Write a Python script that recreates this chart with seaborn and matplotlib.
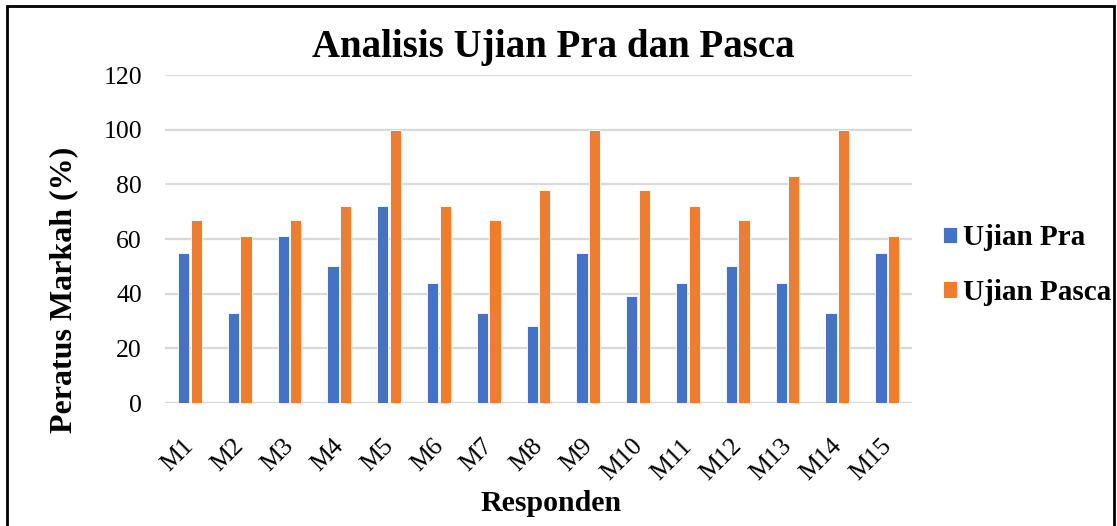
import matplotlib
matplotlib.use("Agg")
import matplotlib.pyplot as plt
import matplotlib.transforms as mtransforms
import seaborn as sns
import pandas as pd
from matplotlib.patches import Rectangle

responden = ["M1", "M2", "M3", "M4", "M5", "M6", "M7", "M8", "M9", "M10",
             "M11", "M12", "M13", "M14", "M15"]
ujian_pra = [55, 33, 61, 50, 72, 44, 33, 28, 55, 39, 44, 50, 44, 33, 55]
ujian_pasca = [67, 61, 67, 72, 100, 72, 67, 78, 100, 78, 72, 67, 83, 100, 61]
series = ["Ujian Pra", "Ujian Pasca"]
colors = ["#4472C4", "#ED7D31"]
y_ticks = [0, 20, 40, 60, 80, 100, 120]

df = pd.DataFrame({
    "Responden": responden * 2,
    "Nilai": ujian_pra + ujian_pasca,
    "Ujian": [series[0]] * len(responden) + [series[1]] * len(responden),
})

sns.set_theme(style="white")
plt.rcParams["font.family"] = ["Liberation Serif", "DejaVu Serif"]
plt.rcParams["text.color"] = "black"
plt.rcParams["xtick.color"] = "black"
plt.rcParams["ytick.color"] = "black"
plt.rcParams["axes.labelcolor"] = "black"

fig = plt.figure(figsize=(11.17, 5.26), dpi=100)
ax = fig.add_axes([0.1477, 0.2338, 0.6688, 0.6236])

sns.barplot(data=df, x="Responden", y="Nilai", hue="Ujian", order=responden,
            hue_order=series, palette=colors, width=0.5, gap=0.1,
            edgecolor="white", linewidth=0.6, saturation=1, ax=ax, legend=True)

ax.set_ylim(0, 120)
ax.set_xlim(-0.5, len(responden) - 0.5)
ax.set_yticks(y_ticks)
ax.set_yticklabels([str(v) for v in y_ticks], fontsize=18.5)
ax.yaxis.grid(True, color="#d9d9d9", linewidth=1.6)
ax.set_axisbelow(True)
for s in ax.spines.values():
    s.set_visible(False)
ax.tick_params(axis="x", length=0, pad=23)
ax.tick_params(axis="y", length=0, pad=16.5)
shift = mtransforms.ScaledTranslation(-5 / 72, 0, fig.dpi_scale_trans)
for lab in ax.get_xticklabels():
    lab.set_rotation(45)
    lab.set_ha("right")
    lab.set_rotation_mode("anchor")
    lab.set_fontsize(18.5)
    lab.set_transform(lab.get_transform() + shift)

ax.set_xlabel("Responden", fontsize=21.5, fontweight="bold")
ax.xaxis.set_label_coords(0.517, -0.329)
ax.xaxis.label.set_va("baseline")
ax.set_ylabel("Peratus Markah (%)", fontsize=23, fontweight="bold")
ax.yaxis.set_label_coords(-0.135, 0.346)
ax.yaxis.label.set_va("center")

fig.text(0.495, 0.8916, "Analisis Ujian Pra dan Pasca", ha="center", va="baseline",
         fontsize=28, fontweight="bold")

leg = ax.legend(loc="center left", bbox_to_anchor=(1.0255, 0.42), frameon=False,
                prop={"weight": "bold", "size": 21}, handlelength=0.5,
                handleheight=0.5, handletextpad=0.2, labelspacing=0.95,
                borderaxespad=0)

fig.patches.append(Rectangle((0.0063, -0.02), 0.991, 1.0086,
                             transform=fig.transFigure, fill=False,
                             edgecolor="black", linewidth=2))

fig.savefig("out.png", dpi=100, facecolor="white")
